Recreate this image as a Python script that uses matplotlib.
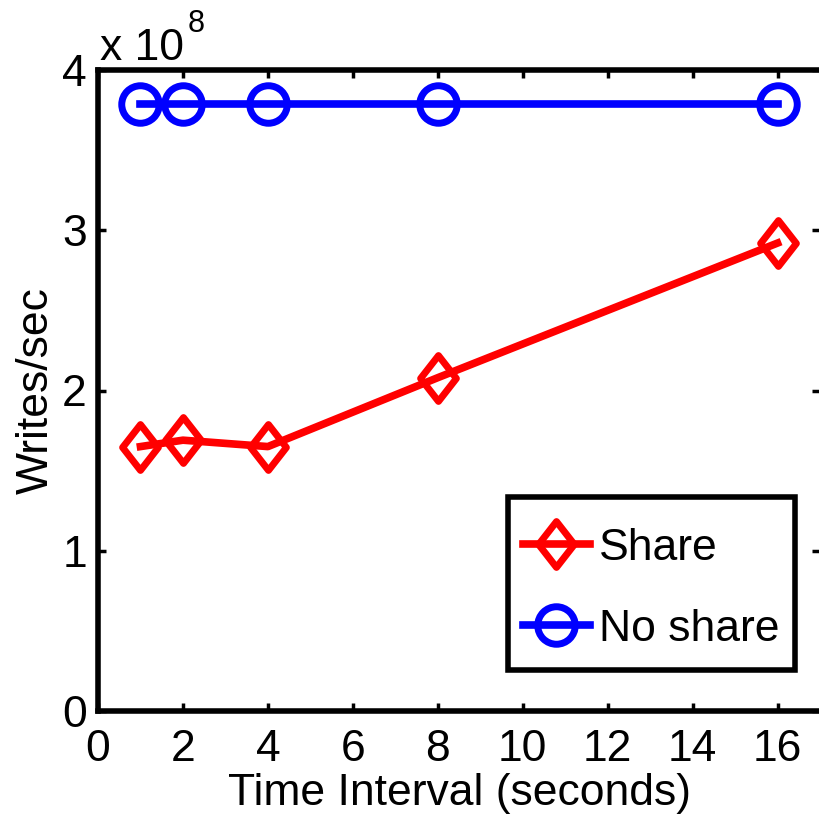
import numpy as np
import matplotlib
matplotlib.use("Agg")
import matplotlib.pyplot as plt
from matplotlib.path import Path
from matplotlib.patches import Rectangle

# data (writes/sec in units of 1e8)
intervals = [1, 2, 4, 8, 16]
share = [1.65, 1.69, 1.65, 2.08, 2.92]
no_share = [3.79, 3.79, 3.79, 3.79, 3.79]

plt.rcParams['font.family'] = ['Liberation Sans', 'DejaVu Sans']
FS = 32

# wider diamond, like the MATLAB one
diamond = Path([(0, 1), (0.78, 0), (0, -1), (-0.78, 0), (0, 1)],
               [Path.MOVETO, Path.LINETO, Path.LINETO, Path.LINETO, Path.CLOSEPOLY])

fig = plt.figure(figsize=(8.19, 8.14), dpi=100)
ax = fig.add_axes([98 / 819, 103 / 814, 722 / 819, 641 / 814])

ax.plot(intervals, share, color='red', lw=5.5, marker=diamond, ms=33,
        mfc='none', mec='red', mew=5, label='Share', clip_on=False)
ax.plot(intervals, no_share, color='blue', lw=5.5, marker='o', ms=27,
        mfc='none', mec='blue', mew=5, label='No share', clip_on=False)

ax.set_xlim(0, 17)
ax.set_ylim(0, 4)
ax.set_xticks(range(0, 17, 2))
ax.set_yticks([0, 1, 2, 3, 4])

ax.tick_params(direction='in', length=6, width=2.5, labelsize=FS,
               top=True, right=True)
ax.tick_params(axis='x', pad=13)
ax.tick_params(axis='y', pad=8)
for side in ['left', 'bottom', 'top']:
    ax.spines[side].set_linewidth(4)
ax.spines['right'].set_linewidth(1)
ax.spines['right'].set_color('#999999')

ax.set_xlabel('Time Interval (seconds)', fontsize=FS, labelpad=2)
ax.set_ylabel('Writes/sec', fontsize=FS, labelpad=4)

# exponent label above the y axis
fig.text(100 / 819, 1 - 60 / 814, 'x 10', fontsize=FS, ha='left', va='baseline')
fig.text(188 / 819, 1 - 32 / 814, '8', fontsize=22, ha='left', va='baseline')

# legend box drawn separately so its padding can be set freely
bx0, bx1, by0, by1 = 0.568, 0.965, 0.064, 0.334
ax.add_patch(Rectangle((bx0, by0), bx1 - bx0, by1 - by0, transform=ax.transAxes,
                       fill=True, facecolor='white', edgecolor='black', lw=4, zorder=4))
leg = ax.legend(loc='center', bbox_to_anchor=((bx0 + bx1) / 2, (by0 + by1) / 2 - 0.008),
                fontsize=FS, frameon=False, handlelength=1.5, handletextpad=0.22,
                borderpad=0, labelspacing=0.9, borderaxespad=0)
leg.set_zorder(5)

fig.savefig('out.png', dpi=100)
